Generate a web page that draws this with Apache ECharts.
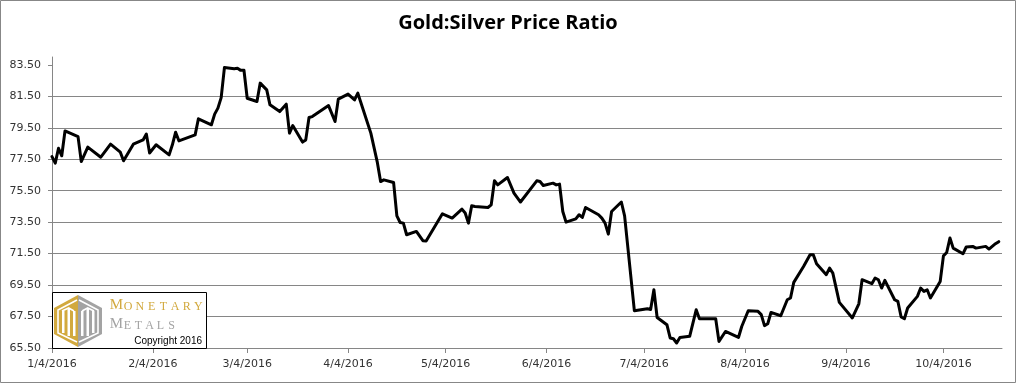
<!DOCTYPE html>
<html><head><meta charset="utf-8">
<script src="https://cdn.jsdelivr.net/npm/echarts@6/dist/echarts.min.js"></script>
<style>html,body{margin:0;padding:0;background:#fff}#c{width:1016px;height:383px}</style>
</head><body><div id="c"></div><script>
const chartTitle = 'Gold:Silver Price Ratio';
const dates = [
 '2016-01-04','2016-01-05','2016-01-06','2016-01-07','2016-01-08','2016-01-12','2016-01-13','2016-01-15','2016-01-19','2016-01-22','2016-01-25','2016-01-26','2016-01-29',
 '2016-02-01','2016-02-02','2016-02-03','2016-02-05','2016-02-09','2016-02-10','2016-02-11','2016-02-12','2016-02-17','2016-02-18','2016-02-22','2016-02-23','2016-02-24','2016-02-25','2016-02-26','2016-02-29',
 '2016-03-01','2016-03-02','2016-03-03','2016-03-04','2016-03-07','2016-03-08','2016-03-10','2016-03-11','2016-03-14','2016-03-16','2016-03-17','2016-03-18','2016-03-21','2016-03-22','2016-03-23','2016-03-24','2016-03-29','2016-03-31',
 '2016-04-01','2016-04-04','2016-04-06','2016-04-07','2016-04-11','2016-04-13','2016-04-14','2016-04-15','2016-04-18','2016-04-19','2016-04-20','2016-04-21','2016-04-22','2016-04-25','2016-04-27','2016-04-28',
 '2016-05-03','2016-05-06','2016-05-09','2016-05-10','2016-05-11','2016-05-12','2016-05-13','2016-05-17','2016-05-18','2016-05-19','2016-05-20','2016-05-23','2016-05-25','2016-05-27',
 '2016-06-01','2016-06-02','2016-06-03','2016-06-06','2016-06-07','2016-06-08','2016-06-09','2016-06-10','2016-06-13','2016-06-14','2016-06-15','2016-06-16','2016-06-20','2016-06-21','2016-06-22','2016-06-23','2016-06-24','2016-06-27','2016-06-28',
 '2016-07-01','2016-07-05','2016-07-06','2016-07-07','2016-07-08','2016-07-11','2016-07-12','2016-07-13','2016-07-14','2016-07-15','2016-07-18','2016-07-20','2016-07-21','2016-07-26','2016-07-27','2016-07-29',
 '2016-08-02','2016-08-03','2016-08-05','2016-08-08','2016-08-09','2016-08-10','2016-08-11','2016-08-12','2016-08-15','2016-08-17','2016-08-18','2016-08-19','2016-08-22','2016-08-24','2016-08-25','2016-08-26','2016-08-29','2016-08-30','2016-08-31',
 '2016-09-02','2016-09-06','2016-09-08','2016-09-09','2016-09-12','2016-09-13','2016-09-14','2016-09-15','2016-09-16','2016-09-19','2016-09-20','2016-09-21','2016-09-22','2016-09-23','2016-09-26','2016-09-27','2016-09-28','2016-09-29','2016-09-30',
 '2016-10-03','2016-10-04','2016-10-05','2016-10-06','2016-10-07','2016-10-10','2016-10-11','2016-10-13','2016-10-14','2016-10-17','2016-10-18','2016-10-20','2016-10-21'
];
const ratio = [
 77.67,77.25,78.20,77.72,79.30,78.94,77.35,78.27,77.63,78.46,77.95,77.40,78.46,
 78.73,79.10,77.90,78.42,77.78,78.42,79.22,78.67,79.05,80.07,79.69,80.37,80.75,81.42,83.33,83.26,
 83.28,83.15,83.16,81.38,81.17,82.34,81.91,80.96,80.53,81.00,79.16,79.64,78.59,78.73,80.15,80.21,80.91,79.90,
 81.32,81.64,81.27,81.70,79.16,77.30,76.08,76.19,76.02,73.90,73.48,73.44,72.70,72.91,72.32,72.30,
 74.03,73.76,74.33,74.08,73.44,74.54,74.50,74.43,74.60,76.13,75.87,76.34,75.35,74.78,
 76.13,76.08,75.83,75.98,75.87,75.92,74.18,73.50,73.71,73.97,73.80,74.43,73.97,73.76,73.44,72.74,74.18,74.78,73.90,
 67.87,68.00,67.95,69.20,67.44,66.98,66.14,66.09,65.82,66.17,66.24,67.93,67.36,67.36,65.92,66.55,
 66.17,66.87,67.87,67.83,67.62,66.92,67.04,67.76,67.55,68.57,68.68,69.67,70.68,71.43,71.43,70.86,70.16,70.58,70.26,
 68.40,67.41,68.31,69.84,69.59,69.95,69.84,69.31,69.80,68.57,68.46,67.47,67.36,68.04,68.78,69.31,69.10,69.20,68.68,
 69.73,71.36,71.57,72.49,71.85,71.49,71.92,71.96,71.85,71.96,71.79,72.13,72.26
];
const tickDates = ['2016-01-04','2016-02-04','2016-03-04','2016-04-04','2016-05-04','2016-06-04','2016-07-04','2016-08-04','2016-09-04','2016-10-04'];
const tickLabels = ['1/4/2016','2/4/2016','3/4/2016','4/4/2016','5/4/2016','6/4/2016','7/4/2016','8/4/2016','9/4/2016','10/4/2016'];
const yTicks = [65.5,67.5,69.5,71.5,73.5,75.5,77.5,79.5,81.5,83.5];
const axisStart = '2016-01-04', axisEnd = '2016-10-22';
const yMin = 65.5, yMax = 84, yStep = 2;

function dayNum(s){const p=s.split('-').map(Number);return (Date.UTC(p[0],p[1]-1,p[2])-Date.UTC(2016,0,4))/864e5;}
const tickDays = tickDates.map(dayNum);
const seriesData = dates.map((d,i)=>[dayNum(d), ratio[i]]);

const gridColor = '#868686';
const gold = '#D2A93E', grey = '#A3A3A3';
const logo = [
  {type:'rect', shape:{x:52.5,y:292.5,width:154,height:56}, style:{fill:'#fff',stroke:'#000',lineWidth:1}, z:10},
  {type:'polygon', shape:{points:[[78,295],[78,347],[54,334],[54,308]]}, style:{fill:gold}, z:11},
  {type:'polygon', shape:{points:[[78,295],[102,308],[102,334],[78,347]]}, style:{fill:grey}, z:11},
  {type:'polyline', shape:{points:[[77,300],[58,310],[58,333],[77,342]]}, style:{stroke:'#fff',lineWidth:1.6,fill:null}, z:12},
  {type:'polyline', shape:{points:[[79,300],[98,310],[98,333],[79,342]]}, style:{stroke:'#fff',lineWidth:1.6,fill:null}, z:12},
  {type:'rect', shape:{x:62,y:311,width:2.5,height:22}, style:{fill:'#fff'}, z:12},
  {type:'rect', shape:{x:67.5,y:309,width:2.5,height:27}, style:{fill:'#fff'}, z:12},
  {type:'rect', shape:{x:73,y:311,width:2.5,height:25}, style:{fill:'#fff'}, z:12},
  {type:'rect', shape:{x:81,y:311,width:2.5,height:25}, style:{fill:'#fff'}, z:12},
  {type:'rect', shape:{x:86.5,y:309,width:2.5,height:27}, style:{fill:'#fff'}, z:12},
  {type:'rect', shape:{x:92,y:311,width:2.5,height:22}, style:{fill:'#fff'}, z:12},
  {type:'polyline', shape:{points:[[62,311],[68.7,308],[74,311]]}, style:{stroke:'#fff',lineWidth:1.6,fill:null}, z:12},
  {type:'polyline', shape:{points:[[82,311],[87.7,308],[94,311]]}, style:{stroke:'#fff',lineWidth:1.6,fill:null}, z:12}
];
const word1 = 'MONETARY', word2 = 'METALS';
for (let i=0;i<word1.length;i++){
  logo.push({type:'text', x:116.5+i*11.7, y:313, z:12,
    style:{text:word1[i], fill:gold, font:(i===0?'15px':'12px')+' "Liberation Serif", serif', textAlign:'center', textVerticalAlign:'bottom'}});
}
for (let i=0;i<word2.length;i++){
  logo.push({type:'text', x:116.5+i*11.0, y:331.5, z:12,
    style:{text:word2[i], fill:grey, font:(i===0?'15px':'12px')+' "Liberation Serif", serif', textAlign:'center', textVerticalAlign:'bottom'}});
}
logo.push({type:'text', x:202, y:341, z:12, style:{text:'Copyright 2016', fill:'#000', font:'10px "Liberation Sans", Arial, sans-serif', textAlign:'right', textVerticalAlign:'middle'}});
logo.push({type:'rect', shape:{x:0.5,y:0.5,width:1015,height:382}, style:{fill:'none',stroke:'#878787',lineWidth:1}, z:20, silent:true});

const chart = echarts.init(document.getElementById('c'), null, {renderer:'canvas'});
chart.setOption({
  animation:false,
  backgroundColor:'#fff',
  title:{text:chartTitle, left:'center', top:13, padding:0,
    textStyle:{fontFamily:'"Open Sans", sans-serif', fontWeight:'bold', fontSize:20, color:'#000'}},
  grid:{left:52, right:14, top:57, bottom:35},
  xAxis:{type:'value', min:dayNum(axisStart), max:dayNum(axisEnd),
    axisLine:{onZero:false, lineStyle:{color:gridColor, width:1}},
    axisTick:{show:true, customValues:tickDays, length:5, lineStyle:{color:gridColor}},
    axisLabel:{customValues:tickDays, margin:11, color:'#333', fontFamily:'"DejaVu Sans", Verdana, sans-serif', fontSize:11,
      formatter:v=>{const k=tickDays.indexOf(v);return k>=0?tickLabels[k]:'';}},
    splitLine:{show:false}},
  yAxis:{type:'value', min:yMin, max:yMax, interval:yStep,
    axisLine:{show:true, lineStyle:{color:gridColor, width:1}},
    axisTick:{show:true, customValues:yTicks, length:4, lineStyle:{color:gridColor}},
    axisLabel:{customValues:yTicks, margin:11, color:'#333', fontFamily:'"DejaVu Sans", Verdana, sans-serif', fontSize:11,
      formatter:v=>Number(v).toFixed(2)},
    splitLine:{show:true, showMaxLine:false, lineStyle:{color:gridColor, width:1}}},
  series:[{type:'line', data:seriesData, showSymbol:false, symbol:'none',
    lineStyle:{color:'#000', width:3, join:'round', cap:'round'}}],
  graphic:logo
});
</script></body></html>
